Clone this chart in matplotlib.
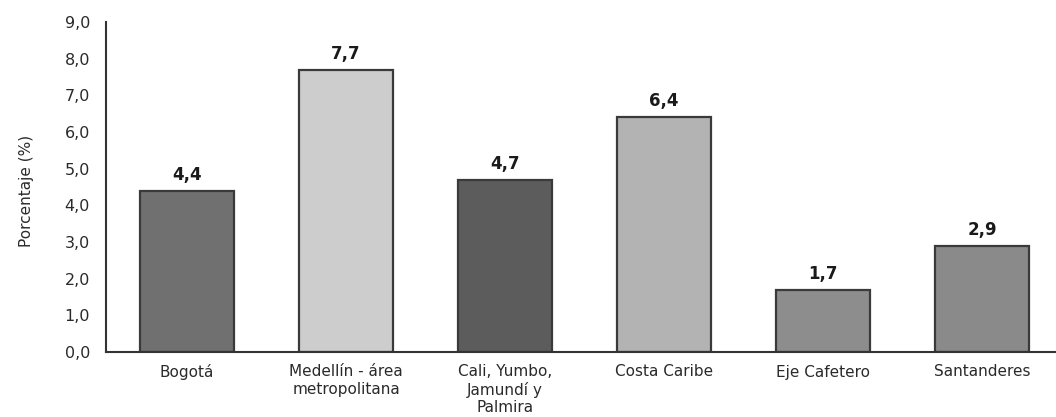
import matplotlib
matplotlib.use("Agg")
import matplotlib.pyplot as plt
from matplotlib.ticker import FuncFormatter

categories = ["Bogotá", "Medellín - área\nmetropolitana", "Cali, Yumbo,\nJamundí y\nPalmira",
              "Costa Caribe", "Eje Cafetero", "Santanderes"]
values = [4.4, 7.7, 4.7, 6.4, 1.7, 2.9]
labels = ["4,4", "7,7", "4,7", "6,4", "1,7", "2,9"]
colors = ["#707070", "#cdcdcd", "#5c5c5c", "#b3b3b3", "#8d8d8d", "#8a8a8a"]
yticks = [0, 1, 2, 3, 4, 5, 6, 7, 8, 9]

plt.rcParams['font.family'] = ['DejaVu Sans']

fig = plt.figure(figsize=(10.56, 4.17), dpi=100)
ax = fig.add_axes([106/1056, 1-352/417, 1-106/1056, 330/417])

x = list(range(len(categories)))
bars = ax.bar(x, values, width=0.59, color=colors, edgecolor="#3a3a3a", linewidth=1.6, zorder=2)
for xi, v, lab in zip(x, values, labels):
    ax.annotate(lab, (xi, v), xytext=(0, 5), textcoords="offset points",
                ha="center", va="bottom", fontsize=12, fontweight="bold", color="#1a1a1a")

ax.set_xlim(-0.51, 5.465)
ax.set_ylim(0, 9)
ax.set_yticks(yticks)
ax.yaxis.set_major_formatter(FuncFormatter(lambda v, p: f"{v:.1f}".replace(".", ",")))
ax.set_xticks(x)
ax.set_xticklabels(categories, fontsize=11, color="#2a2a2a", linespacing=1.2)
ax.tick_params(axis="y", length=0, pad=11.5, labelsize=11.5, labelcolor="#2a2a2a")
ax.tick_params(axis="x", length=0, pad=9)
for s in ["top", "right"]:
    ax.spines[s].set_visible(False)
for s in ["left", "bottom"]:
    ax.spines[s].set_color("#333333")
    ax.spines[s].set_linewidth(1.5)
ax.set_ylabel("Porcentaje (%)", fontsize=11, color="#2a2a2a")
ax.yaxis.set_label_coords(-0.0758, 0.488)

fig.savefig("out.png", dpi=100)
